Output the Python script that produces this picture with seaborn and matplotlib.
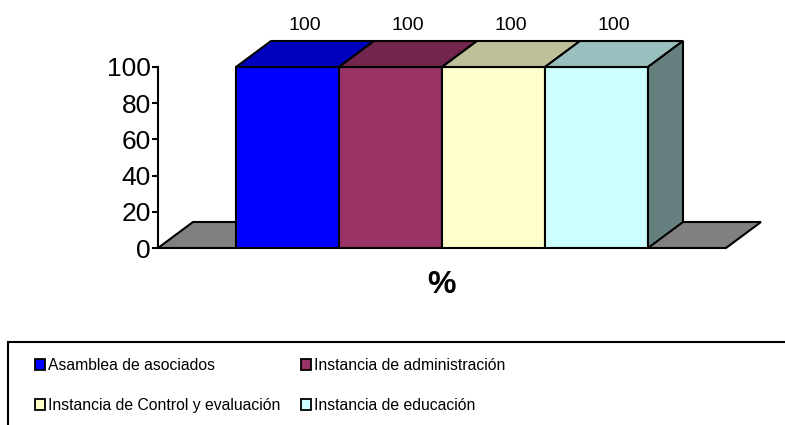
import numpy as np
import pandas as pd
import matplotlib
matplotlib.use("Agg")
import matplotlib.pyplot as plt
from matplotlib.patches import Polygon, Patch, Rectangle
from matplotlib.colors import to_rgb
import seaborn as sns

# ---- data -------------------------------------------------------------
categories = [
    "Asamblea de asociados",
    "Instancia de administración",
    "Instancia de Control y evaluación",
    "Instancia de educación",
]
values = [100, 100, 100, 100]
yticks = [0, 20, 40, 60, 80, 100]
axis_title = "%"
face_colors = ["#0000FF", "#993366", "#FFFFCC", "#CCFFFF"]

# ---- style ------------------------------------------------------------
sns.set_theme(style="white")
plt.rcParams["font.family"] = ["Liberation Sans", "DejaVu Sans"]
plt.rcParams["text.color"] = "black"
plt.rcParams["ytick.color"] = "black"

W, H = 785, 425
fig = plt.figure(figsize=(W / 100, H / 100), dpi=100)
fig.patch.set_facecolor("white")

# axes placed in pixel terms: y=0 at 248 px, left spine at 158 px
ax_left, ax_right, ax_top, ax_bottom = 158, 772, 30, 248
ax = fig.add_axes([ax_left / W, 1 - ax_bottom / H,
                   (ax_right - ax_left) / W, (ax_bottom - ax_top) / H])

px_per_x = 103.0          # one category slot
px_per_y = 181.0 / 100.0  # 100 units = 181 px
x_lo = -0.5 - 78 / px_per_x
n = len(categories)

df = pd.DataFrame({"cat": categories, "val": values})
sns.barplot(data=df, x="cat", y="val", hue="cat", palette=face_colors,
            order=categories, hue_order=categories, width=1.0, dodge=False,
            saturation=1, edgecolor="black", linewidth=1.5, legend=False,
            ax=ax, zorder=3)
bars = [p for p in ax.patches if isinstance(p, Rectangle)]

ax.set_xlim(x_lo, x_lo + (ax_right - ax_left) / px_per_x)
ax.set_ylim(0, (ax_bottom - ax_top) / px_per_y)

# depth offset of the pseudo-3D look
dx = 35 / px_per_x
dy = 26 / px_per_y


def shade(c, f):
    r, g, b = to_rgb(c)
    return (r * f, g * f, b * f)


# floor
x_hi_floor = n - 0.5 + 78 / px_per_x
floor = Polygon([(x_lo, 0), (x_hi_floor, 0), (x_hi_floor + dx, dy), (x_lo + dx, dy)],
                closed=True, facecolor="#808080", edgecolor="black",
                linewidth=1.5, zorder=1, clip_on=False)
ax.add_patch(floor)

for i, (bar, col, v) in enumerate(zip(bars, face_colors, values)):
    bar.set_zorder(3)
    x0 = bar.get_x()
    x1 = x0 + bar.get_width()
    top = Polygon([(x0, v), (x1, v), (x1 + dx, v + dy), (x0 + dx, v + dy)],
                  closed=True, facecolor=shade(col, 0.75), edgecolor="black",
                  linewidth=1.5, zorder=4, clip_on=False)
    ax.add_patch(top)
    if i == len(bars) - 1:
        side = Polygon([(x1, 0), (x1 + dx, dy), (x1 + dx, v + dy), (x1, v)],
                       closed=True, facecolor=shade(col, 0.5), edgecolor="black",
                       linewidth=1.5, zorder=4, clip_on=False)
        ax.add_patch(side)
    ax.annotate(f"{v:g}", xy=((x0 + x1) / 2 + dx / 2, v + dy),
                xytext=(0, 5), textcoords="offset points",
                ha="center", va="bottom", fontsize=14, color="black",
                annotation_clip=False)

# axes decoration
for s in ["top", "right", "bottom"]:
    ax.spines[s].set_visible(False)
ax.spines["left"].set_bounds(0, 100)
ax.spines["left"].set_color("black")
ax.spines["left"].set_linewidth(1.5)
ax.spines["left"].set_zorder(5)
ax.set_yticks(yticks)
ax.set_yticklabels([str(t) for t in yticks])
ax.tick_params(axis="y", direction="out", length=4, width=1.5, color="black",
               labelsize=19, labelcolor="black", pad=1, left=True)
ax.set_xticks([])
ax.set_xlabel("")
ax.set_ylabel("")
ax.set_facecolor("none")

ax.annotate(axis_title, xy=((n - 1) / 2, 0), xycoords="data",
            xytext=(0, -37 * 0.72), textcoords="offset points",
            ha="center", va="center", fontsize=23, fontweight="bold",
            color="black", annotation_clip=False)

# legend box (runs past the right and bottom edge)
fig.patches.append(Rectangle((8 / W, -0.1), 1.1, (1 - 342 / H) + 0.1,
                             transform=fig.transFigure, facecolor="none",
                             edgecolor="black", linewidth=1.5))

order = [0, 2, 1, 3]
handles = [Patch(facecolor=face_colors[i], edgecolor="black", linewidth=1.3)
           for i in order]
labels = [categories[i] for i in order]
leg = fig.legend(handles, labels, ncol=2, loc="upper left",
                 bbox_to_anchor=(24 / W, 1 - 347 / H), frameon=False,
                 prop={"size": 11.3},
                 handlelength=0.65, handleheight=0.65, handletextpad=0.2,
                 columnspacing=1.3, labelspacing=1.6, borderpad=0.2)
for t in leg.get_texts():
    t.set_color("black")

fig.savefig("out.png", dpi=100, facecolor="white")
